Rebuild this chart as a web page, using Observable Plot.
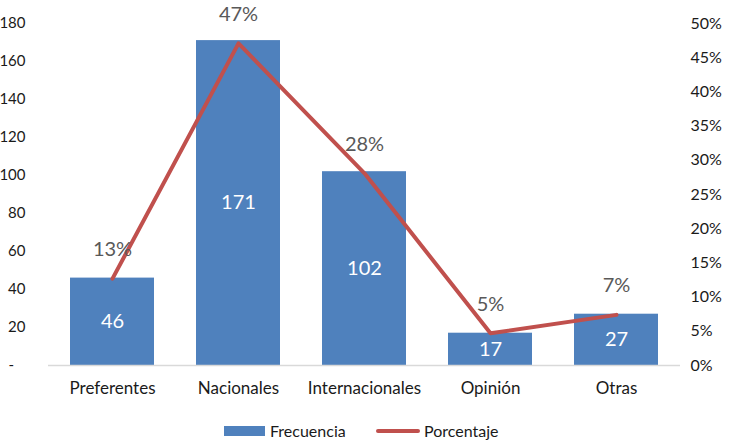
<!DOCTYPE html>
<html><head><meta charset="utf-8">
<script src="https://cdn.jsdelivr.net/npm/d3@7"></script>
<script src="https://cdn.jsdelivr.net/npm/@observablehq/plot@0.6"></script>
<style>
body{margin:0;background:#fff;font-family:Lato,sans-serif;}
#wrap{position:relative;width:730px;height:441px;}
.leg{position:absolute;top:421px;font-size:16px;color:#1a1a1a;display:flex;align-items:center;}
</style></head>
<body><div id="wrap"></div>
<script>
const categories = ["Preferentes","Nacionales","Internacionales","Opinión","Otras"];
const frecuencia = [46,171,102,17,27];
const porcentaje = [12.7,47.1,28.1,4.7,7.4];
const pctLabels = ["13%","47%","28%","5%","7%"];
const leftTicks = [0,20,40,60,80,100,120,140,160,180];
const rightTicks = [0,5,10,15,20,25,30,35,40,45,50];

const k = 180/50;
const data = categories.map((c,i)=>({cat:c,f:frecuencia[i],p:porcentaje[i],pl:pctLabels[i],pv:porcentaje[i]*k}));

const chart = Plot.plot({
  width:730, height:410,
  marginLeft:48, marginRight:50, marginTop:23, marginBottom:45,
  style:{fontFamily:"Lato, sans-serif", fontSize:"15px", color:"#1a1a1a", background:"transparent", overflow:"visible"},
  x:{domain:categories, paddingInner:0.335, paddingOuter:0.1675, label:null},
  y:{domain:[0,180], label:null},
  marks:[
    Plot.barY(data,{x:"cat",y:"f",fill:"#4F81BD"}),
    Plot.ruleY([0],{stroke:"#D9D9D9",strokeWidth:1.5}),
    Plot.axisX({tickSize:0,tickPadding:16,fontSize:17,label:null}),
    Plot.axisY(leftTicks,{anchor:"left",tickSize:0,tickPadding:23,fontSize:15,label:null,tickFormat:d=>d===0?"-\u00a0\u00a0\u00a0":d}),
    Plot.axisY(rightTicks.map(t=>t*k),{anchor:"right",tickSize:0,tickPadding:10,fontSize:16,label:null,textAnchor:"start",tickFormat:d=>Math.round(d/k)+"%"}),
    Plot.text(data,{x:"cat",y:d=>d.f/2,text:d=>String(d.f),fill:"white",fontSize:20}),
    Plot.lineY(data,{x:"cat",y:"pv",stroke:"#C0504D",strokeWidth:4}),
    Plot.text(data,{x:"cat",y:"pv",text:"pl",dy:-29,fill:"#595959",fontSize:20})
  ]
});
const wrap=document.getElementById("wrap");
wrap.appendChild(chart);
const l1=document.createElement("div");l1.className="leg";l1.style.left="224px";
l1.innerHTML='<span style="display:inline-block;width:41px;height:10px;background:#4F81BD;margin-right:5px"></span>Frecuencia';
const l2=document.createElement("div");l2.className="leg";l2.style.left="376px";
l2.innerHTML='<span style="display:inline-block;width:44px;height:4px;border-radius:2px;background:#C0504D;margin-right:4px"></span>Porcentaje';
wrap.appendChild(l1);wrap.appendChild(l2);
</script></body></html>
